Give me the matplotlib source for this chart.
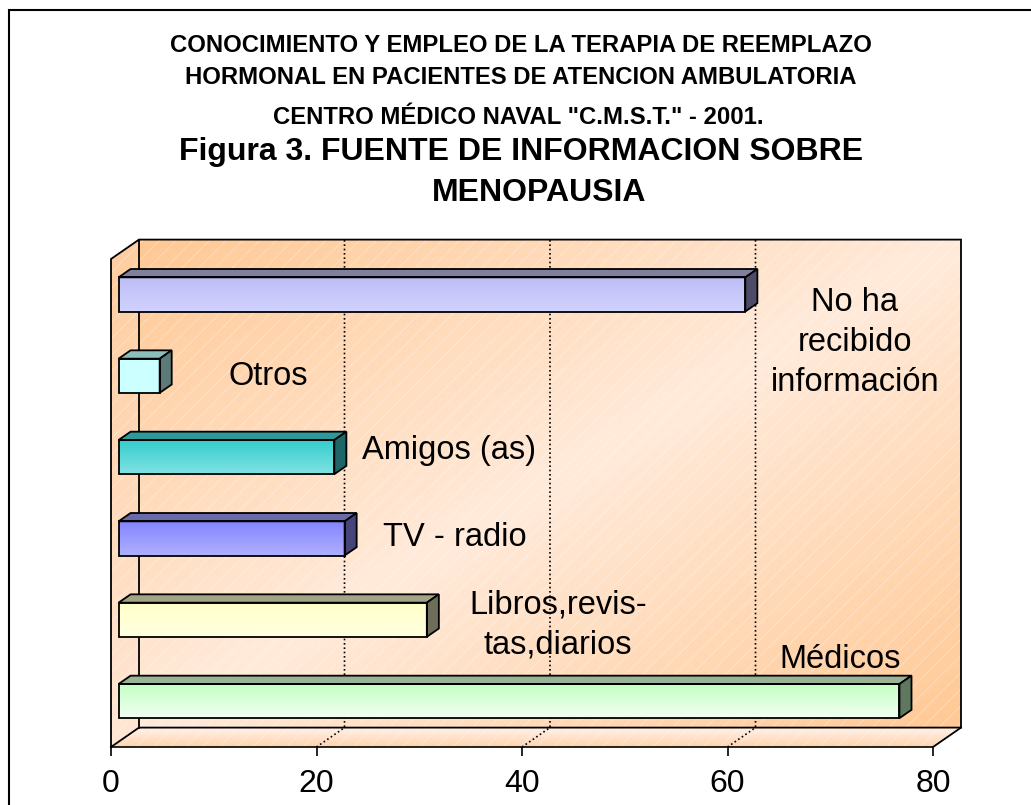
import numpy as np
import matplotlib
matplotlib.use('Agg')
import matplotlib.pyplot as plt
from matplotlib.patches import Polygon, Rectangle
from matplotlib.transforms import IdentityTransform, ScaledTranslation
from matplotlib.colors import to_rgb, LinearSegmentedColormap

plt.rcParams['font.family'] = ['Liberation Sans', 'DejaVu Sans']
plt.rcParams['hatch.linewidth'] = 0.6

# data (bottom to top)
categories = ['Médicos', 'Libros,revis-\ntas,diarios', 'TV - radio', 'Amigos (as)', 'Otros',
              'No ha\nrecibido\ninformación']
values = [76, 30, 22, 21, 4, 61]
xticks = [0, 20, 40, 60, 80]

# per-bar colours: front gradient (top, bottom), top face, side face
front_top = ['#C2FFC2', '#FFFFC8', '#8484FF', '#33CCCC', '#CCFFFF', '#BEBEF6']
front_bot = ['#F2FFF2', '#FFFFE0', '#B0B0FF', '#80E2E2', '#CCFFFF', '#D2D2FF']
top_col = ['#99B399', '#A3A387', '#6A6AA8', '#2E9999', '#8CBDBA', '#80809E']
side_col = ['#5F775F', '#6E6E58', '#45457A', '#1F6666', '#5C7A78', '#4C4C68']

# label positions in data coords
lab_x = [71.0, 43.5, 33.5, 32.9, 15.3, 72.4]
lab_y = [0.57, 1.0, 2.08, 3.15, 4.05, 4.47]

W, H = 1031, 805
fig = plt.figure(figsize=(W / 100, H / 100), dpi=100)
ax = fig.add_axes([111 / W, 1 - 747 / H, 822 / W, 488 / H])
ax.set_xlim(0, 80)
ax.set_ylim(-0.5, 5.5)
ax.set_autoscale_on(False)
for s in ['top', 'right', 'left']:
    ax.spines[s].set_visible(False)
ax.spines['bottom'].set_linewidth(1.2)
ax.spines['bottom'].set_zorder(6)
ax.set_yticks([])
ax.set_xticks(xticks)
ax.tick_params(axis='x', length=6.5, width=1.2, labelsize=23, pad=9)
ax.patch.set_visible(False)

DX, DY = 28.0, 19.4   # depth offset in pixels
D0, D1 = 0.27, 0.70   # bar depth range
BH = 0.42
ID = IdentityTransform()


def proj(x, y, d):
    px, py = ax.transData.transform((x, y))
    return px + d * DX, py + d * DY


def face(p00, p10, p01, p11, c_a, c_b, mode, z):
    n = 80
    s = np.linspace(0, 1, n + 1)
    uu, vv = np.meshgrid(s, s)
    p00, p10, p01, p11 = [np.array(p) for p in (p00, p10, p01, p11)]
    pts = (p00 * ((1 - uu) * (1 - vv))[..., None] + p10 * (uu * (1 - vv))[..., None]
           + p01 * ((1 - uu) * vv)[..., None] + p11 * (uu * vv)[..., None])
    c = (s[:-1] + s[1:]) / 2
    cu, cv = np.meshgrid(c, c)
    if mode == 'diag':
        t = np.abs(cu - cv)
    else:
        t = cv
    cmap = LinearSegmentedColormap.from_list('g', [c_a, c_b])
    ax.pcolormesh(pts[..., 0], pts[..., 1], t, cmap=cmap, vmin=0, vmax=1,
                  transform=ID, shading='flat', zorder=z, clip_on=False,
                  edgecolors='none', antialiased=False)
    hatch = Polygon([p00, p10, p11, p01], closed=True, transform=ID, facecolor='none',
                    edgecolor=(1, 1, 1, 0.35), lw=0, hatch='//', zorder=z + 0.1,
                    clip_on=False)
    ax.add_patch(hatch)


# walls and floor
face(proj(0, -0.5, 1), proj(80, -0.5, 1), proj(0, 5.5, 1), proj(80, 5.5, 1),
     '#FFEADA', '#FFC894', 'diag', 0.5)
face(proj(0, -0.5, 0), proj(0, -0.5, 1), proj(0, 5.5, 0), proj(0, 5.5, 1),
     '#FFE6D4', '#FFCDA0', 'vert', 0.5)
face(proj(0, -0.5, 0), proj(80, -0.5, 0), proj(0, -0.5, 1), proj(80, -0.5, 1),
     '#FFD2AC', '#FFF2EA', 'vert', 0.5)

# gridlines
for gx in xticks[1:-1]:
    p = [proj(gx, -0.5, 0), proj(gx, -0.5, 1), proj(gx, 5.5, 1)]
    ax.plot([q[0] for q in p], [q[1] for q in p], transform=ID, color='black',
            lw=1.2, ls=(0, (1, 1.6)), zorder=1, clip_on=False)

# box outline
outline = [
    [proj(0, -0.5, 0), proj(0, 5.5, 0), proj(0, 5.5, 1), proj(80, 5.5, 1), proj(80, -0.5, 1),
     proj(80, -0.5, 0)],
    [proj(0, -0.5, 0), proj(0, -0.5, 1), proj(80, -0.5, 1)],
    [proj(0, -0.5, 1), proj(0, 5.5, 1)],
]
for line in outline:
    ax.plot([q[0] for q in line], [q[1] for q in line], transform=ID, color='black',
            lw=1.3, zorder=2, clip_on=False, solid_joinstyle='miter')

# bars
front_tr = ax.transData + ScaledTranslation(D0 * DX / 100, D0 * DY / 100, fig.dpi_scale_trans)
ypos = np.arange(len(values))
for i, v in enumerate(values):
    yb, yt = i - BH / 2, i + BH / 2
    g = np.linspace(0, 1, 100)[:, None]
    a = np.array(to_rgb(front_bot[i]))
    b = np.array(to_rgb(front_top[i]))
    img = (a + g[..., None] * (b - a)) * np.ones((1, 2, 1))
    ax.imshow(img, extent=(0, v, yb, yt), origin='lower', transform=front_tr,
              aspect='auto', zorder=3, interpolation='bilinear', clip_on=False)
    topf = [proj(0, yt, D0), proj(v, yt, D0), proj(v, yt, D1), proj(0, yt, D1)]
    side = [proj(v, yb, D0), proj(v, yt, D0), proj(v, yt, D1), proj(v, yb, D1)]
    ax.add_patch(Polygon(topf, closed=True, transform=ID, facecolor=top_col[i],
                         edgecolor='black', lw=1.3, zorder=3, joinstyle='miter'))
    ax.add_patch(Polygon(side, closed=True, transform=ID, facecolor=side_col[i],
                         edgecolor='black', lw=1.3, zorder=3, joinstyle='miter'))
ax.barh(ypos, values, height=BH, left=0, facecolor='none', edgecolor='black',
        lw=1.3, transform=front_tr, zorder=4)

# category labels
for i, lab in enumerate(categories):
    ax.text(lab_x[i], lab_y[i], lab, ha='center', va='center', fontsize=23.5,
            linespacing=1.38, zorder=5)

# titles
fig.text(0.505, 1 - 45 / H, 'CONOCIMIENTO Y EMPLEO DE LA TERAPIA DE REEMPLAZO',
         ha='center', va='center', fontsize=17.2, fontweight='bold')
fig.text(0.505, 1 - 77 / H, 'HORMONAL EN PACIENTES DE ATENCION AMBULATORIA',
         ha='center', va='center', fontsize=17.2, fontweight='bold')
fig.text(0.503, 1 - 117 / H, 'CENTRO MÉDICO NAVAL "C.M.S.T." - 2001.',
         ha='center', va='center', fontsize=17.2, fontweight='bold')
fig.text(0.505, 1 - 152 / H, 'Figura 3. FUENTE DE INFORMACION SOBRE',
         ha='center', va='center', fontsize=23.0, fontweight='bold')
fig.text(0.523, 1 - 193 / H, 'MENOPAUSIA',
         ha='center', va='center', fontsize=23.0, fontweight='bold')

# outer frame (right and bottom run off the picture)
fig.patches.append(Rectangle((9 / W, -0.1), 1.2, 1.1 - 10 / H, transform=fig.transFigure,
                             facecolor='none', edgecolor='black', lw=1.5))

fig.savefig('out.png', dpi=100)
